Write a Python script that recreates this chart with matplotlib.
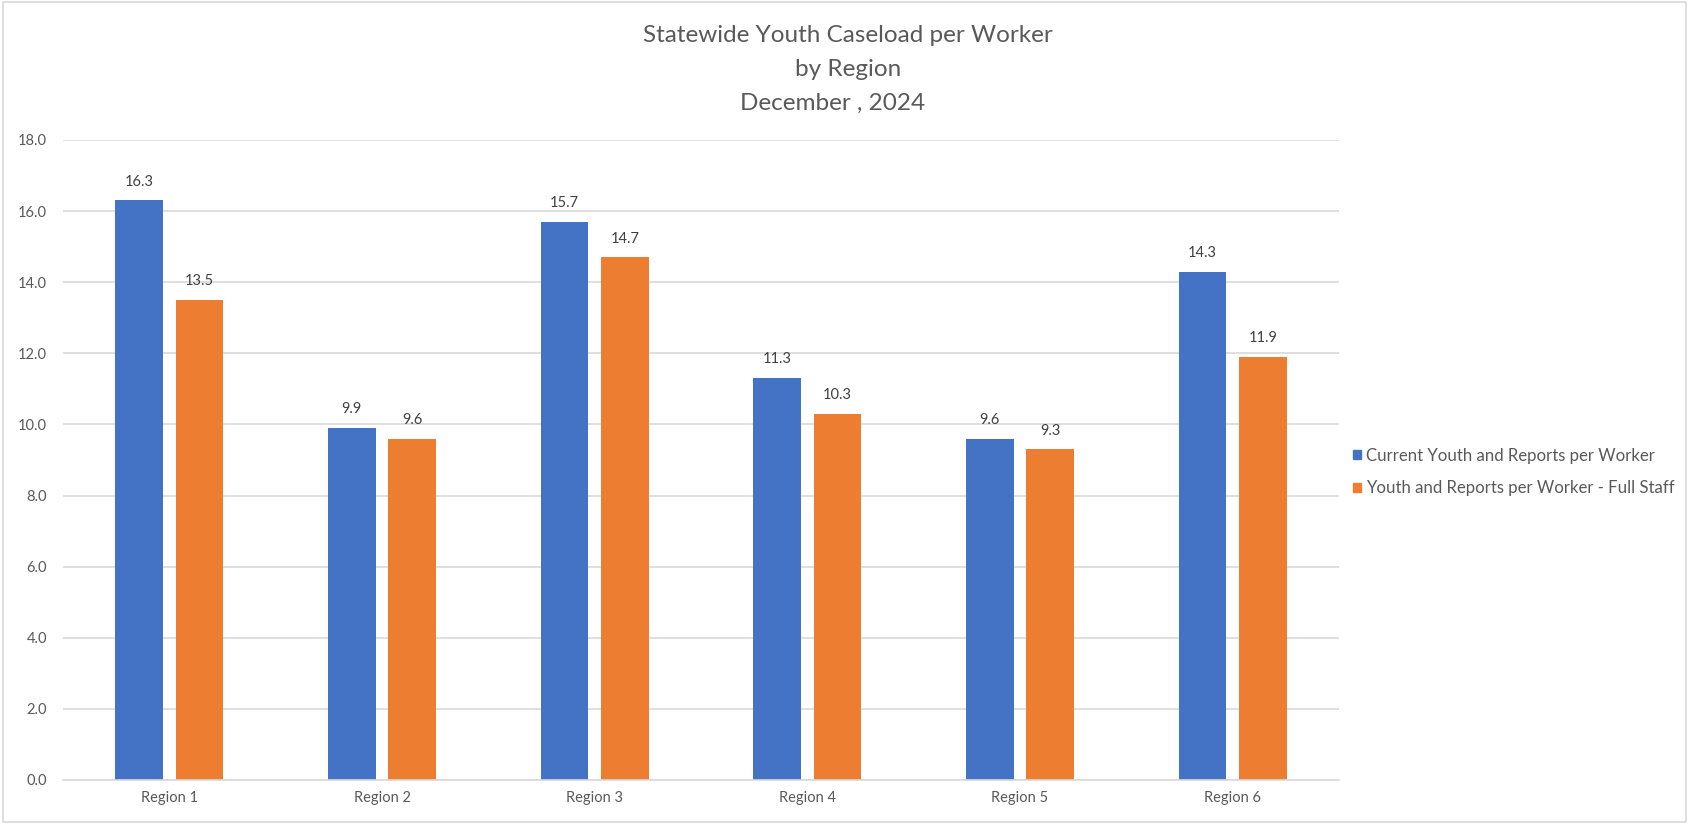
import numpy as np
import matplotlib
matplotlib.use("Agg")
import matplotlib.pyplot as plt
from matplotlib.patches import Patch, Rectangle

plt.rcParams['font.family'] = ['Lato', 'DejaVu Sans']

regions = ['Region 1', 'Region 2', 'Region 3', 'Region 4', 'Region 5', 'Region 6']
current = [16.3, 9.9, 15.7, 11.3, 9.6, 14.3]
full_staff = [13.5, 9.6, 14.7, 10.3, 9.3, 11.9]
series_names = ['Current Youth and Reports per Worker',
                'Youth and Reports per Worker - Full Staff']
title_lines = ['Statewide Youth Caseload per Worker', 'by Region', 'December , 2024']

blue = '#4472C4'
orange = '#ED7D31'
txt = '#595959'
grid = '#D9D9D9'

fig = plt.figure(figsize=(16.89, 8.24), dpi=100)
ax = fig.add_axes([0.0373, 0.0534, 0.7555, 0.7767])

x = np.arange(len(regions))
w = 0.225
off = 0.142
b1 = ax.bar(x - off, current, w, color=blue)
b2 = ax.bar(x + off, full_staff, w, color=orange)

for bars, vals in ((b1, current), (b2, full_staff)):
    for r, v in zip(bars, vals):
        ax.annotate(f'{v:.1f}', (r.get_x() + r.get_width() / 2, v),
                    xytext=(0, 13.5), textcoords='offset points',
                    ha='center', va='center', fontsize=10.5, color='#404040')

ax.set_xlim(-0.5, len(regions) - 0.5)
ax.set_ylim(0, 18)
ax.set_yticks(np.arange(0, 18.1, 2))
ax.set_yticklabels([f'{t:.1f}' for t in np.arange(0, 18.1, 2)])
ax.set_xticks(x)
ax.set_xticklabels(regions)
ax.tick_params(axis='both', length=0, labelsize=10.5, labelcolor=txt)
ax.tick_params(axis='y', pad=11.5)
ax.tick_params(axis='x', pad=8)
ax.yaxis.grid(True, color=grid, linewidth=1.2)
ax.set_axisbelow(True)
for s in ('top', 'right', 'left'):
    ax.spines[s].set_visible(False)
ax.spines['bottom'].set_color(grid)
ax.spines['bottom'].set_linewidth(1.2)

# title: three centred lines, the date line sits a little left
title_x = [848, 848, 833]
for i, line in enumerate(title_lines):
    fig.text(title_x[i] / 1689, 1 - (36 + 33.5 * i) / 824, line, ha='center', va='center',
             fontsize=17.5, color=txt)

handles = [Patch(color=blue), Patch(color=orange)]
fig.legend(handles, series_names, loc='center left',
           bbox_to_anchor=(1353 / 1689, 1 - 472 / 824), frameon=False,
           fontsize=12.1, labelcolor=txt, handlelength=0.5, handleheight=0.5,
           handletextpad=0.25, labelspacing=1.0, borderaxespad=0, borderpad=0)

# thin outer frame around the whole chart
fig.patches.append(Rectangle((0.0015, 0.0025), 0.997, 0.995, transform=fig.transFigure,
                             fill=False, edgecolor=grid, linewidth=1.2))

fig.savefig('out.png', dpi=100)
